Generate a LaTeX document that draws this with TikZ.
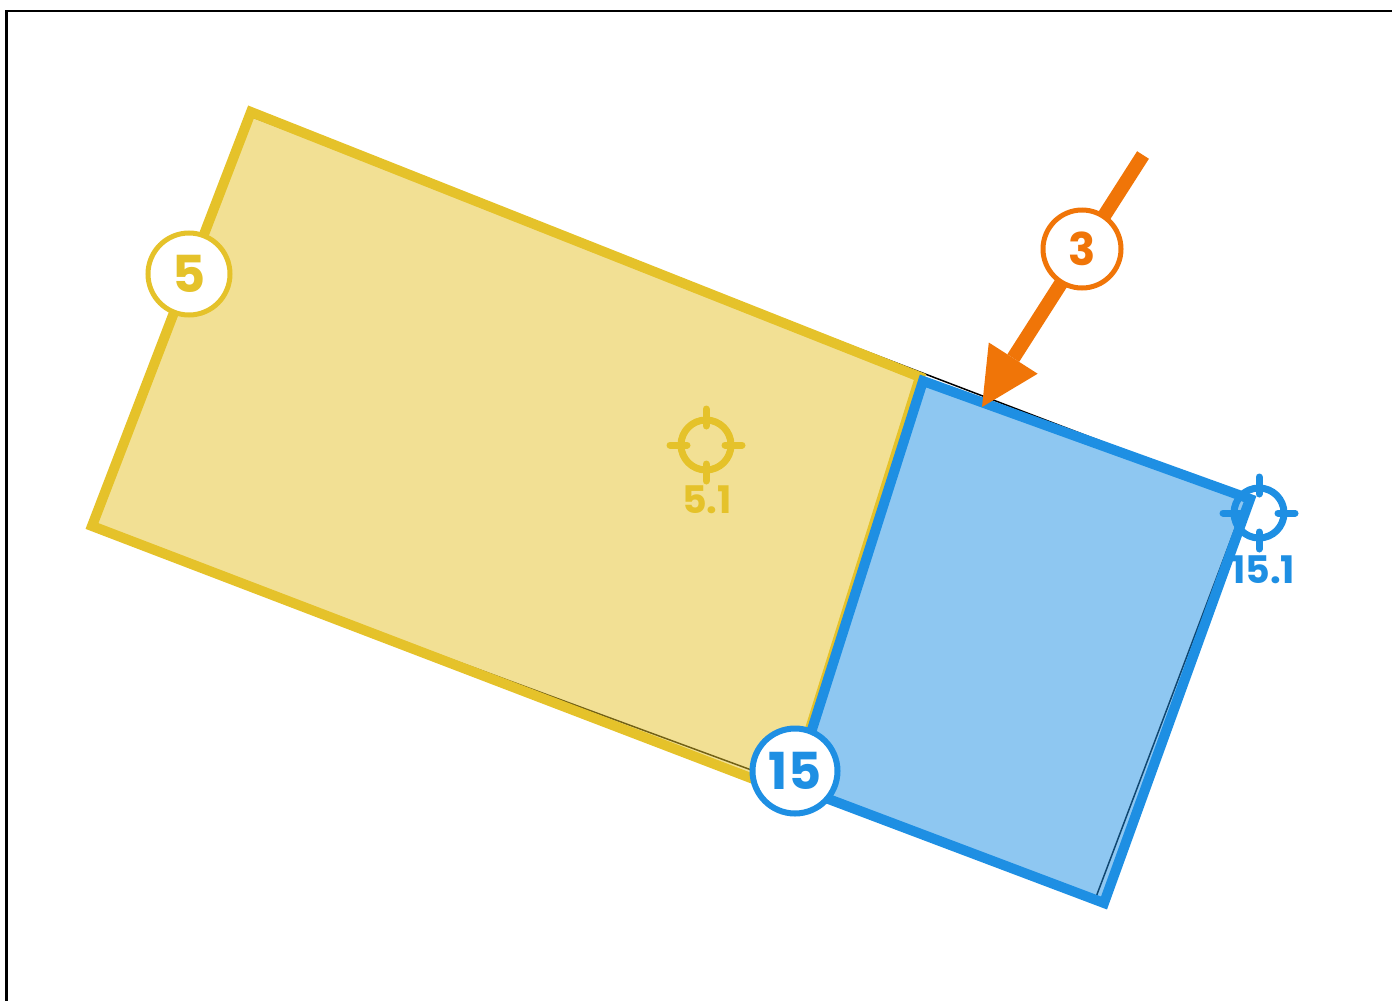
\documentclass[tikz,border=0pt]{standalone}
\usepackage{fontspec}
\setmainfont{Poppins}
\usetikzlibrary{arrows.meta}
\definecolor{zoneyellow}{HTML}{E5C22A}
\definecolor{zoneblue}{HTML}{1E8FE3}
\definecolor{markorange}{HTML}{F07508}
\tikzset{
  crosshair/.pic = {
    \draw (0,0) circle (25);
    \foreach \a in {0,90,180,270}
      \draw (\a:19) -- (\a:36);
  }
}

\begin{document}
\begin{tikzpicture}[x=1pt, y=-1pt,
      zone/.style = {line width=10pt, fill opacity=0.5},
      badge/.style = {shape=circle, draw, fill=white, line width=5pt,
        inner sep=0pt, minimum size=82pt,
        font=\fontsize{51}{51}\selectfont\bfseries},
      centremark/.style = {line width=7pt, line cap=round},
      marklabel/.style = {font=\fontsize{38}{38}\selectfont\bfseries}]
  \useasboundingbox (0,0) rectangle (1392,1001);
  \draw[line width=2.5pt] (6.5,1010) -- (6.5,11) -- (1400,11);

  % parcel outline
  \draw[line width=1.5pt] (250,116) -- (1247,497) -- (1096,897) -- (92,527) -- cycle;

  % zones
  \draw[zone, draw=zoneyellow, fill=zoneyellow]
    (251,112) -- (92,526) -- (790,793) -- (920,377) -- cycle;
  \draw[zone, draw=zoneblue, fill=zoneblue]
    (923,381) -- (1250,499) -- (1104,903) -- (794,786) -- cycle;

  % centroids
  \coordinate (t51) at (706,445);
  \coordinate (t151) at (1259,513);
  \pic[centremark, draw=zoneyellow] at (t51) {crosshair};
  \pic[centremark, draw=zoneblue] at (t151) {crosshair};
  \node[marklabel, text=zoneyellow] (l51) at (707,500) {5.1};
  \node[marklabel, text=zoneblue] (l151) at (1263,570) {15.1};

  % direction arrow
  \coordinate (arrtail) at (1143,155);
  \coordinate (arrtip) at (982,407);
  \draw[markorange, line width=14pt,
    -{Triangle[length=58pt, width=58pt, line width=0pt]}] (arrtail) -- (arrtip);

  % badges
  \node[badge, draw=zoneyellow, text=zoneyellow] (b5) at (189,274) {5};
  \node[badge, draw=zoneblue, text=zoneblue, minimum size=85pt, line width=6pt] (b15) at (795,771) {15};
  \node[badge, draw=markorange, text=markorange, minimum size=78pt,
    font=\fontsize{45}{45}\selectfont\bfseries] (b3) at (1082,249) {3};
\end{tikzpicture}
\end{document}
